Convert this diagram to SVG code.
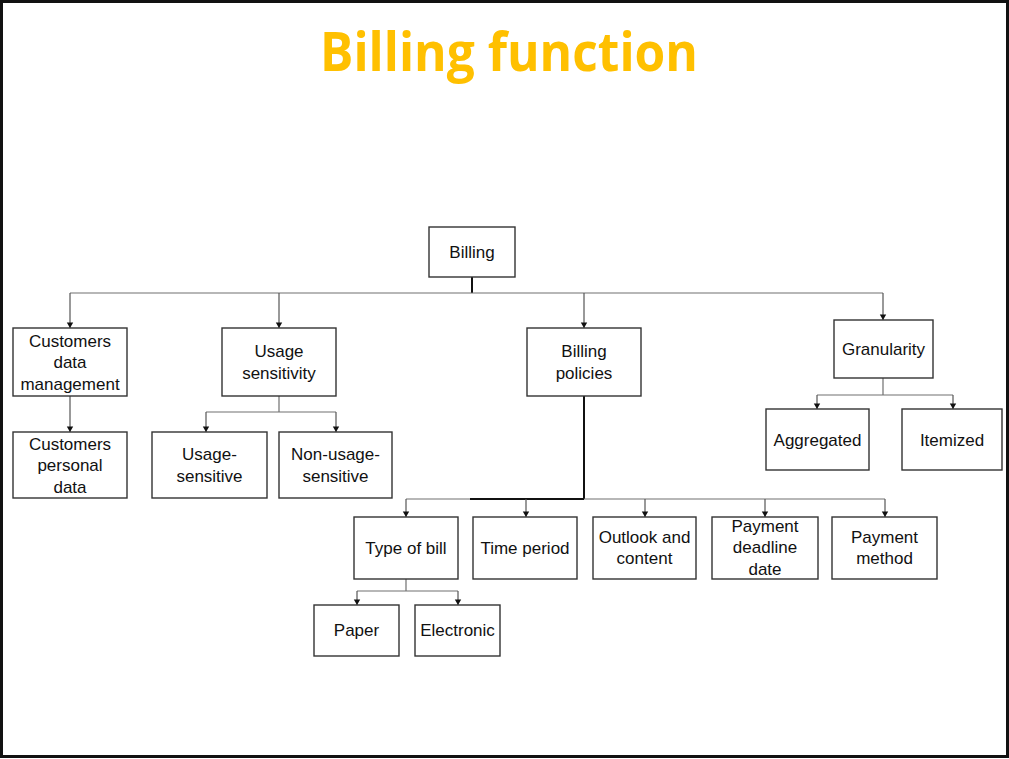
<svg xmlns="http://www.w3.org/2000/svg" width="1009" height="759" viewBox="0 0 1009 759">
<defs>
<marker id="ah" markerUnits="userSpaceOnUse" markerWidth="8" markerHeight="8" viewBox="0 0 8 8" refX="4" refY="7" orient="0">
<path d="M0.8,1.5 L7.2,1.5 L4,7 Z" fill="#111"/>
</marker>
</defs>
<style>
.box{fill:#fff;stroke:#333;stroke-width:1.4}
.t{font-family:"Liberation Sans",Arial,sans-serif;font-size:17px;fill:#111;text-anchor:middle}
.c{fill:none;stroke:#707070;stroke-width:1.2}
.cd{fill:none;stroke:#111;stroke-width:2}
.a{fill:none;stroke:#555;stroke-width:1.2;marker-end:url(#ah)}
</style>
<rect x="0" y="0" width="1009" height="759" fill="#fff"/>
<rect x="1.5" y="1.5" width="1006" height="755" fill="none" stroke="#111" stroke-width="3"/>
<text x="509" y="71" font-family="'Open Sans','Liberation Sans',sans-serif" font-weight="bold" font-size="54" fill="#FFC000" text-anchor="middle" textLength="378" lengthAdjust="spacingAndGlyphs">Billing function</text>

<g id="connectors">
<path class="cd" d="M472,277 V293"/>
<path class="c" d="M70,293 H883"/>
<path class="a" d="M70,293 V328"/>
<path class="a" d="M279,293 V328"/>
<path class="a" d="M584,293 V328"/>
<path class="a" d="M883,293 V320"/>
<path class="a" d="M70,396 V432"/>
<path class="c" d="M279,396 V412 M206,412 H336"/>
<path class="a" d="M206,412 V432"/>
<path class="a" d="M336,412 V432"/>
<path class="c" d="M883,378 V395 M817,395 H953"/>
<path class="a" d="M817,395 V409"/>
<path class="a" d="M953,395 V409"/>
<path class="cd" d="M584,396 V499"/>
<path class="c" d="M406,499 H885"/>
<path class="cd" d="M470,499 H584"/>
<path class="a" d="M406,499 V517"/>
<path class="a" d="M526,499 V517"/>
<path class="a" d="M645,499 V517"/>
<path class="a" d="M765,499 V517"/>
<path class="a" d="M885,499 V517"/>
<path class="c" d="M406,579 V591 M357,591 H458"/>
<path class="a" d="M357,591 V605"/>
<path class="a" d="M458,591 V605"/>
</g>

<g id="billing"><rect class="box" x="429" y="227" width="86" height="50"/><text class="t" x="472" y="258">Billing</text></g>
<g id="cdm"><rect class="box" x="13" y="328" width="114" height="68"/><text class="t" x="70" y="346.5">Customers</text><text class="t" x="70" y="368">data</text><text class="t" x="70" y="389.5">management</text></g>
<g id="cpd"><rect class="box" x="13" y="432" width="114" height="66"/><text class="t" x="70" y="449.5">Customers</text><text class="t" x="70" y="471">personal</text><text class="t" x="70" y="492.5">data</text></g>
<g id="usage"><rect class="box" x="222" y="328" width="114" height="68"/><text class="t" x="279" y="357">Usage</text><text class="t" x="279" y="378.5">sensitivity</text></g>
<g id="usage-sensitive"><rect class="box" x="152" y="432" width="115" height="66"/><text class="t" x="209.5" y="460">Usage-</text><text class="t" x="209.5" y="481.5">sensitive</text></g>
<g id="non-usage-sensitive"><rect class="box" x="279" y="432" width="113" height="66"/><text class="t" x="335.5" y="460">Non-usage-</text><text class="t" x="335.5" y="481.5">sensitive</text></g>
<g id="policies"><rect class="box" x="527" y="328" width="114" height="68"/><text class="t" x="584" y="357">Billing</text><text class="t" x="584" y="378.5">policies</text></g>
<g id="granularity"><rect class="box" x="834" y="320" width="99" height="58"/><text class="t" x="883.5" y="355">Granularity</text></g>
<g id="aggregated"><rect class="box" x="766" y="409" width="103" height="61"/><text class="t" x="817.5" y="445.5">Aggregated</text></g>
<g id="itemized"><rect class="box" x="902" y="409" width="100" height="61"/><text class="t" x="952" y="445.5">Itemized</text></g>
<g id="type-of-bill"><rect class="box" x="354" y="517" width="104" height="62"/><text class="t" x="406" y="553.5">Type of bill</text></g>
<g id="time-period"><rect class="box" x="473" y="517" width="104" height="62"/><text class="t" x="525" y="553.5">Time period</text></g>
<g id="outlook"><rect class="box" x="593" y="517" width="103" height="62"/><text class="t" x="644.5" y="542.5">Outlook and</text><text class="t" x="644.5" y="564">content</text></g>
<g id="deadline"><rect class="box" x="712" y="517" width="106" height="62"/><text class="t" x="765" y="531.5">Payment</text><text class="t" x="765" y="553">deadline</text><text class="t" x="765" y="574.5">date</text></g>
<g id="method"><rect class="box" x="832" y="517" width="105" height="62"/><text class="t" x="884.5" y="542.5">Payment</text><text class="t" x="884.5" y="564">method</text></g>
<g id="paper"><rect class="box" x="314" y="605" width="85" height="51"/><text class="t" x="356.5" y="636">Paper</text></g>
<g id="electronic"><rect class="box" x="415" y="605" width="85" height="51"/><text class="t" x="457.5" y="636">Electronic</text></g>
</svg>
